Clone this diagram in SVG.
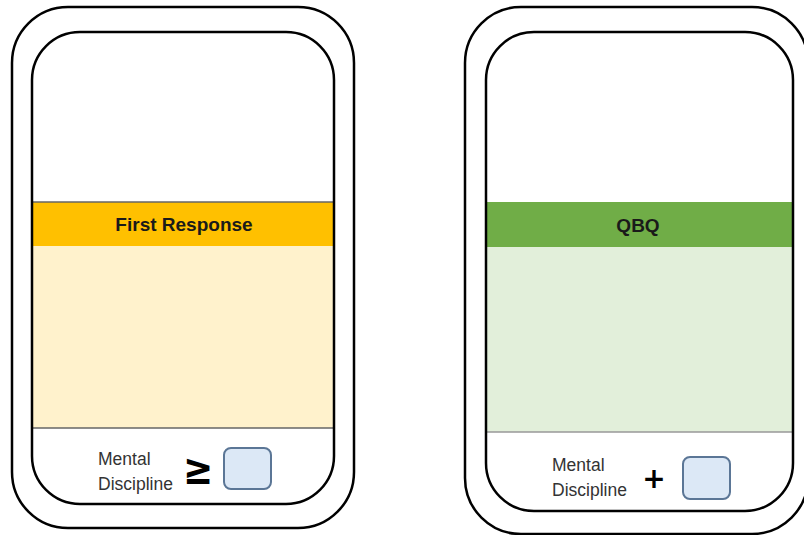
<svg xmlns="http://www.w3.org/2000/svg" width="804" height="535" viewBox="0 0 804 535">
<style>
.outer{fill:#fff;stroke:#000;stroke-width:2.5}
.inner{fill:none;stroke:#000;stroke-width:2.5}
.sep{stroke:#666;stroke-width:1.5}
.title{font-family:"Liberation Sans",Arial,sans-serif;font-weight:bold;font-size:19px;fill:#1a1a1a;text-anchor:middle}
.lbl{font-family:"Liberation Sans",Arial,sans-serif;font-size:17.5px;fill:#333}
.op{font-family:"DejaVu Sans",sans-serif;font-weight:bold;fill:#000;text-anchor:middle}
.box{fill:#dce8f6;stroke:#5b7696;stroke-width:2}
</style>
<rect width="804" height="535" fill="#fff"/>
<g id="card-first-response">
  <rect class="outer" x="12" y="7" width="342" height="521" rx="56" ry="56"/>
  <clipPath id="c1"><rect x="32" y="32" width="302" height="472" rx="48" ry="48"/></clipPath>
  <g clip-path="url(#c1)">
    <rect x="32" y="202" width="302" height="44" fill="#ffc000"/>
    <rect x="32" y="246" width="302" height="182" fill="#fff2cc"/>
  </g>
  <line class="sep" x1="32" y1="202" x2="334" y2="202"/>
  <line class="sep" x1="32" y1="428" x2="334" y2="428"/>
  <rect class="inner" x="32" y="32" width="302" height="472" rx="48" ry="48"/>
  <text class="title" x="184" y="231">First Response</text>
  <text class="lbl" x="98" y="465">Mental</text>
  <text class="lbl" x="98" y="490">Discipline</text>
  <text class="op" x="0" y="0" font-size="30" transform="translate(198,484) scale(1.2,1.45)">≥</text>
  <rect class="box" x="224" y="448" width="47" height="41" rx="7" ry="7"/>
</g>
<g id="card-qbq">
  <rect class="outer" x="465" y="7" width="343" height="527" rx="56" ry="56"/>
  <clipPath id="c2"><rect x="486" y="32" width="307" height="479" rx="48" ry="48"/></clipPath>
  <g clip-path="url(#c2)">
    <rect x="486" y="202" width="307" height="45" fill="#70ad47"/>
    <rect x="486" y="247" width="307" height="185" fill="#e2efda"/>
  </g>
  <line class="sep" x1="486" y1="432" x2="793" y2="432" style="stroke:#999"/>
  <rect class="inner" x="486" y="32" width="307" height="479" rx="48" ry="48"/>
  <text class="title" x="638" y="232">QBQ</text>
  <text class="lbl" x="552" y="471">Mental</text>
  <text class="lbl" x="552" y="496">Discipline</text>
  <text class="op" x="654" y="488" font-size="28">+</text>
  <rect class="box" x="683" y="457" width="47" height="42" rx="7" ry="7"/>
</g>
</svg>
